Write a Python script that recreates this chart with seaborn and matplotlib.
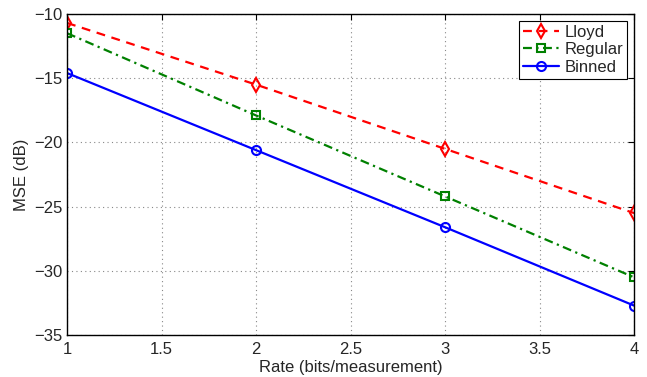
import matplotlib
matplotlib.use('Agg')
import matplotlib.pyplot as plt
import seaborn as sns
import pandas as pd

# data
rate = [1, 2, 3, 4]
lloyd = [-10.7, -15.5, -20.5, -25.5]
regular = [-11.5, -17.9, -24.2, -30.5]
binned = [-14.6, -20.6, -26.6, -32.7]

sns.set_style('white')
plt.rcParams['font.family'] = ['Liberation Sans', 'DejaVu Sans']
plt.rcParams['axes.unicode_minus'] = True

df = pd.DataFrame({'Rate': rate * 3,
                   'MSE': lloyd + regular + binned,
                   'Method': ['Lloyd'] * 4 + ['Regular'] * 4 + ['Binned'] * 4})

fig = plt.figure(figsize=(6.47, 3.77), dpi=100)
ax = fig.add_axes([0.1036, 0.111, 0.8764, 0.852])

styles = {'Lloyd': ('red', (0, (4, 3)), 'd', 7.5),
          'Regular': ('green', (0, (4, 2, 1, 2)), 's', 5.5),
          'Binned': ('blue', '-', 'o', 6.5)}
for name, (col, ls, mk, ms) in styles.items():
    sub = df[df['Method'] == name]
    sns.lineplot(data=sub, x='Rate', y='MSE', ax=ax, color=col, linestyle=ls,
                 marker=mk, markersize=ms, markerfacecolor='none',
                 markeredgecolor=col, markeredgewidth=1.5, linewidth=1.6,
                 label=name)

ax.set_xlim(1, 4)
ax.set_ylim(-35, -10)
ax.set_xticks([1, 1.5, 2, 2.5, 3, 3.5, 4])
ax.set_xticklabels(['1', '1.5', '2', '2.5', '3', '3.5', '4'])
ax.set_yticks([-35, -30, -25, -20, -15, -10])
ax.grid(True, color='#888888', linestyle=(0, (1, 3)), linewidth=0.8)
ax.tick_params(direction='in', length=4, labelsize=12, top=True, right=True,
               color='black', pad=3)
ax.tick_params(axis='x', pad=5)
for s in ax.spines.values():
    s.set_color('black')
    s.set_linewidth(1.0)
ax.set_xlabel('Rate (bits/measurement)', fontsize=12, labelpad=2)
ax.set_ylabel('MSE (dB)', fontsize=12, labelpad=4)

leg = ax.legend(loc='upper right', fontsize=12, fancybox=False, framealpha=1,
                edgecolor='black', borderaxespad=0.4, handlelength=2.2,
                labelspacing=0.15, borderpad=0.25, handletextpad=0.3)
leg.get_frame().set_linewidth(0.8)

fig.savefig('out.png', dpi=100)
